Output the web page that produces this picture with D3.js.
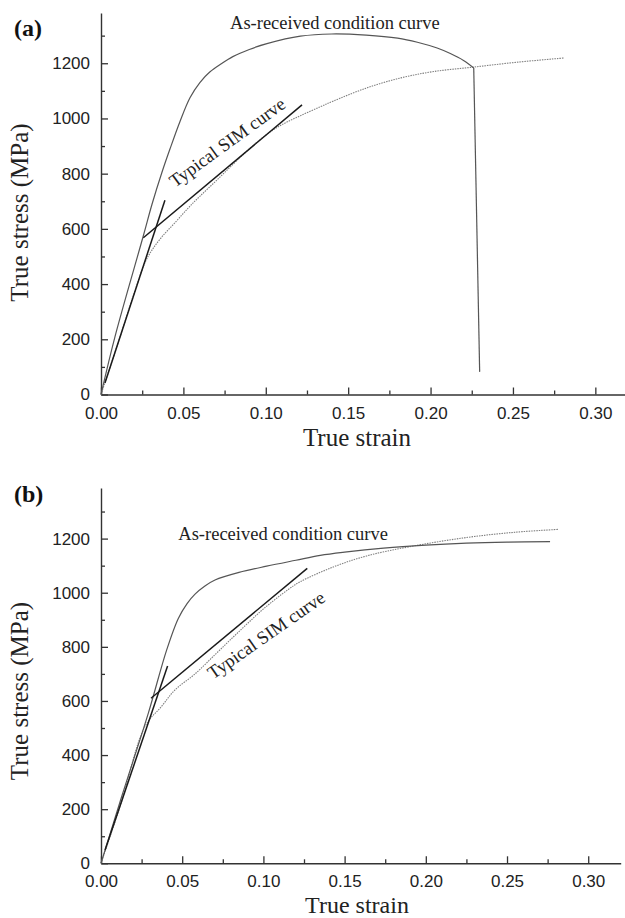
<!DOCTYPE html>
<html>
<head>
<meta charset="utf-8">
<script src="https://cdn.jsdelivr.net/npm/d3@7"></script>
<style>
  body { margin: 0; background: #fff; }
  svg { display: block; }
</style>
</head>
<body>
<svg id="chart" width="625" height="918"></svg>
<script>
// ---------- tick values ----------
const strainTicks = [0, 0.05, 0.10, 0.15, 0.20, 0.25, 0.30];
const strainMinorTicks = [0.025, 0.075, 0.125, 0.175, 0.225, 0.275];
const stressTicks = [0, 200, 400, 600, 800, 1000, 1200];
const stressMinorTicks = [100, 300, 500, 700, 900, 1100, 1300];

// ---------- panel (a): [true strain, true stress (MPa)] ----------
const asReceivedA = [
  [0, 0], [0.0085, 210], [0.0257, 575], [0.031, 690], [0.037, 805], [0.0419, 890],
  [0.048, 990], [0.054, 1075], [0.060, 1130], [0.066, 1168], [0.073, 1198],
  [0.080, 1224], [0.090, 1250], [0.1007, 1271], [0.121, 1298], [0.140, 1306],
  [0.161, 1302], [0.180, 1291], [0.192, 1276], [0.204, 1255], [0.212, 1235],
  [0.220, 1210], [0.2262, 1183], [0.2298, 82]
];
const simCurveA = [
  [0, 0], [0.010, 180], [0.020, 365], [0.0267, 478], [0.0308, 522], [0.0368, 570],
  [0.045, 623], [0.053, 676], [0.060, 718], [0.070, 775], [0.080, 833],
  [0.090, 890], [0.1007, 943], [0.110, 978], [0.121, 1010], [0.133, 1042],
  [0.141, 1063], [0.161, 1110], [0.182, 1147], [0.202, 1170], [0.226, 1186],
  [0.253, 1204], [0.281, 1219]
];
const elasticTangentA = [[0.0024, 42], [0.0388, 704]];
const simTangentA = [[0.0257, 568], [0.122, 1049]];

// ---------- panel (b) ----------
const asReceivedB = [
  [0, 0], [0.0127, 246], [0.0291, 554], [0.0404, 788], [0.0476, 905], [0.053, 960],
  [0.0579, 995], [0.0640, 1025], [0.0702, 1047], [0.085, 1075], [0.102, 1098],
  [0.120, 1120], [0.135, 1138], [0.150, 1150], [0.174, 1165], [0.200, 1176],
  [0.225, 1183], [0.250, 1187], [0.2765, 1189]
];
const simCurveB = [
  [0, 0], [0.012, 215], [0.0271, 506], [0.0373, 580], [0.0456, 641], [0.0579, 700],
  [0.070, 770], [0.080, 828], [0.090, 885], [0.100, 940], [0.1153, 1012],
  [0.1225, 1040], [0.143, 1095], [0.1636, 1136], [0.190, 1170], [0.225, 1204],
  [0.256, 1224], [0.2816, 1234]
];
const elasticTangentB = [[0.0025, 49], [0.041, 729]];
const simTangentB = [[0.0308, 610], [0.127, 1090]];

// Index from which the as-received record is a straight fracture drop (null = none)
const fractureStartA = 22;
const fractureStartB = null;

// ---------- text ----------
const xTitle = "True strain";
const yTitle = "True stress (MPa)";
const asReceivedLabel = "As-received condition curve";
const simLabel = "Typical SIM curve";

// ---------- panel layouts ----------
const panels = [
  {
    tag: "(a)", tagY: 36,
    xMax: 0.318, yMax: 1382,
    left: 101, right: 625, top: 13, bottom: 394.5,
    xTitleY: 446, yTitleY: 212.5, xTitleSize: 25,
    asReceived: asReceivedA, fracture: fractureStartA, sim: simCurveA,
    elastic: elasticTangentA, simTangent: simTangentA,
    arLabelAt: [0.0783, 1324],
    simLabelAt: [0.0449, 748], simLabelAngle: -36
  },
  {
    tag: "(b)", tagY: 502,
    xMax: 0.32, yMax: 1387,
    left: 101, right: 620.7, top: 488, bottom: 863.3,
    xTitleY: 912.5, yTitleY: 691, xTitleSize: 24,
    asReceived: asReceivedB, fracture: fractureStartB, sim: simCurveB,
    elastic: elasticTangentB, simTangent: simTangentB,
    arLabelAt: [0.0476, 1195],
    simLabelAt: [0.069, 678], simLabelAngle: -35
  }
];

const svg = d3.select("#chart");
const serif = "'Liberation Serif', 'Times New Roman', serif";
const sans = "'Liberation Sans', Arial, sans-serif";

function styleAxis(sel) {
  sel.selectAll("path.domain").attr("stroke", "#333").attr("stroke-width", 1.4);
  sel.selectAll(".tick line").attr("stroke", "#333").attr("stroke-width", 1.3);
  sel.selectAll(".tick text")
    .attr("fill", "#222")
    .style("font-family", sans)
    .style("font-size", "17px");
}

function drawPanel(p) {
  const g = svg.append("g");
  const x = d3.scaleLinear().domain([0, p.xMax]).range([p.left, p.right]);
  const y = d3.scaleLinear().domain([0, p.yMax]).range([p.bottom, p.top]);

  // minor ticks (inward, unlabeled)
  g.append("g")
    .attr("transform", `translate(0,${p.bottom})`)
    .call(d3.axisBottom(x).tickValues(strainMinorTicks).tickSize(-4).tickFormat(""))
    .call(a => a.select(".domain").remove())
    .call(styleAxis);
  g.append("g")
    .attr("transform", `translate(${p.left},0)`)
    .call(d3.axisLeft(y).tickValues(stressMinorTicks).tickSize(-4).tickFormat(""))
    .call(a => a.select(".domain").remove())
    .call(styleAxis);

  // major ticks with labels
  g.append("g")
    .attr("transform", `translate(0,${p.bottom})`)
    .call(d3.axisBottom(x).tickValues(strainTicks).tickSizeInner(-7).tickSizeOuter(0)
      .tickPadding(12).tickFormat(d3.format(".2f")))
    .call(styleAxis);
  g.append("g")
    .attr("transform", `translate(${p.left},0)`)
    .call(d3.axisLeft(y).tickValues(stressTicks).tickSizeInner(-7).tickSizeOuter(0)
      .tickPadding(11).tickFormat(d3.format("d")))
    .call(styleAxis);

  const smooth = d3.line().x(d => x(d[0])).y(d => y(d[1])).curve(d3.curveCatmullRom.alpha(0.5));
  const straight = d3.line().x(d => x(d[0])).y(d => y(d[1]));

  // SIM specimen curve (dotted)
  g.append("path").datum(p.sim)
    .attr("d", smooth).attr("fill", "none")
    .attr("stroke", "#808080").attr("stroke-width", 1.1)
    .attr("stroke-dasharray", "1.5,1");

  // as-received curve: smooth hardening part, then the straight fracture drop
  const cut = p.fracture == null ? p.asReceived.length : p.fracture + 1;
  g.append("path").datum(p.asReceived.slice(0, cut))
    .attr("d", smooth).attr("fill", "none")
    .attr("stroke", "#555").attr("stroke-width", 1.2);
  if (p.fracture != null) {
    g.append("path").datum(p.asReceived.slice(p.fracture))
      .attr("d", straight).attr("fill", "none")
      .attr("stroke", "#555").attr("stroke-width", 1.2);
  }

  // tangent construction lines
  [p.elastic, p.simTangent].forEach(seg => {
    g.append("path").datum(seg)
      .attr("d", straight).attr("fill", "none")
      .attr("stroke", "#1a1a1a").attr("stroke-width", 1.5);
  });

  // annotations
  g.append("text")
    .attr("x", x(p.arLabelAt[0])).attr("y", y(p.arLabelAt[1]))
    .style("font-family", serif).style("font-size", "18.5px").attr("fill", "#222")
    .text(asReceivedLabel);
  g.append("text")
    .attr("transform", `translate(${x(p.simLabelAt[0])},${y(p.simLabelAt[1])}) rotate(${p.simLabelAngle})`)
    .style("font-family", serif).style("font-size", "18.5px").attr("fill", "#222")
    .text(simLabel);

  // axis titles
  g.append("text")
    .attr("x", 357).attr("y", p.xTitleY).attr("text-anchor", "middle")
    .style("font-family", serif).style("font-size", p.xTitleSize + "px").attr("fill", "#222")
    .text(xTitle);
  g.append("text")
    .attr("transform", `translate(28,${p.yTitleY}) rotate(-90)`)
    .attr("text-anchor", "middle")
    .style("font-family", serif).style("font-size", "25px").attr("fill", "#222")
    .text(yTitle);

  // panel tag
  g.append("text")
    .attr("x", 14).attr("y", p.tagY)
    .style("font-family", serif).style("font-size", "24px").style("font-weight", "bold")
    .attr("fill", "#111")
    .text(p.tag);
}

panels.forEach(drawPanel);
</script>
</body>
</html>
